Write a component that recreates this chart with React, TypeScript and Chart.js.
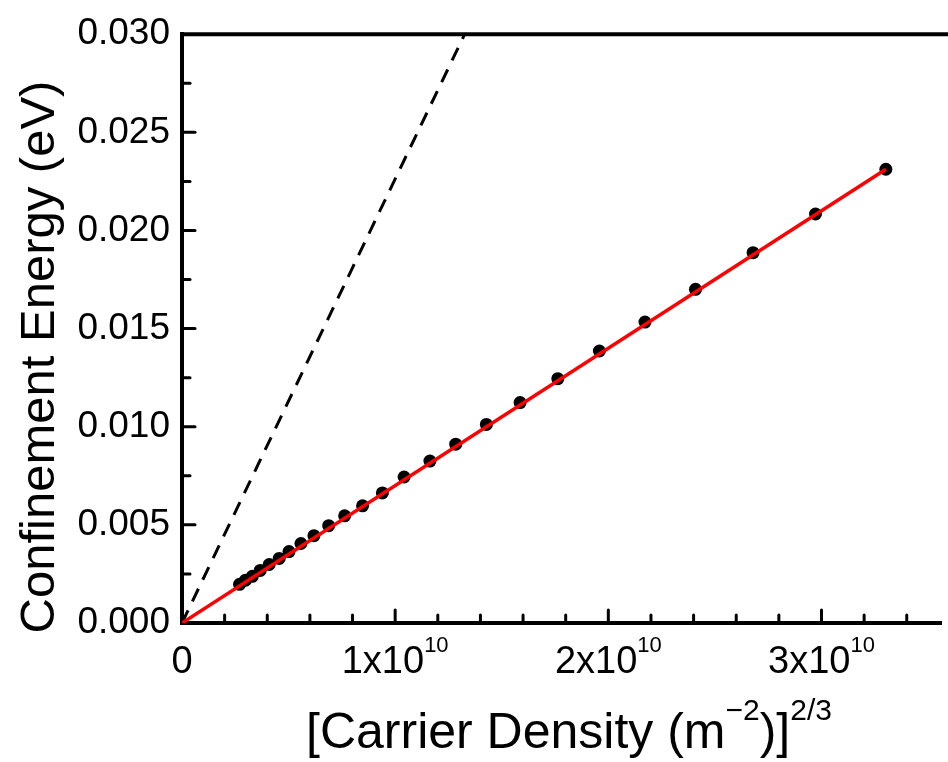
import React, { useEffect, useRef } from 'react';
import { Chart, registerables } from 'chart.js';

Chart.register(...registerables);

// Measured data: [carrier density (m^-2)]^(2/3) vs confinement energy (eV)
const densityX = [
  0.270e10, 0.298e10, 0.330e10, 0.367e10, 0.409e10, 0.456e10, 0.502e10, 0.558e10,
  0.619e10, 0.688e10, 0.763e10, 0.847e10, 0.940e10, 1.042e10, 1.163e10, 1.284e10,
  1.428e10, 1.586e10, 1.763e10, 1.958e10, 2.172e10, 2.409e10, 2.679e10, 2.972e10,
  3.302e10,
];
const energyY = [
  0.00197, 0.00218, 0.00238, 0.00268, 0.00298, 0.00329, 0.00364, 0.00405,
  0.00445, 0.00496, 0.00546, 0.00597, 0.00663, 0.00744, 0.00825, 0.00911,
  0.01012, 0.01123, 0.01245, 0.01386, 0.01533, 0.01700, 0.01887, 0.02084,
  0.02312,
];

// Linear fit (red) endpoints
const fitX = [0, 3.302e10];
const fitY = [0, 0.02312];

// Theoretical line (dashed) endpoints
const modelX = [0, 1.326e10];
const modelY = [0, 0.03];

// Axis ranges and ticks
const X_MIN = 0;
const X_MAX = 3.563e10;
const Y_MIN = 0;
const Y_MAX = 0.03;
const Y_STEP = 0.005;
const Y_MINOR_STEP = 0.0025;
const X_MINOR_STEP = 0.2e10;
const xMajorTicks = [0, 1e10, 2e10, 3e10];
const xTickMantissa = ['0', '1', '2', '3'];
const xTickExponent = ['', '10', '10', '10'];

const yTitle = 'Confinement Energy (eV)';
const xTitleParts: { text: string; sup: boolean }[] = [
  { text: '[Carrier Density (m', sup: false },
  { text: '\u22122', sup: true },
  { text: ')]', sup: false },
  { text: '2/3', sup: true },
];

const FONT = '"Liberation Sans", Arial, sans-serif';

const decorPlugin = {
  id: 'decor',
  afterDraw(chart: any) {
    const ctx: CanvasRenderingContext2D = chart.ctx;
    const area = chart.chartArea;
    const xs = chart.scales.x;
    const ys = chart.scales.y;
    ctx.save();
    ctx.strokeStyle = '#000';
    ctx.fillStyle = '#000';

    // top frame line
    ctx.lineWidth = 4;
    ctx.lineCap = 'butt';
    ctx.beginPath();
    ctx.moveTo(area.left - 2, area.top);
    ctx.lineTo(chart.width, area.top);
    ctx.stroke();

    // inward ticks
    ctx.lineWidth = 3;
    ctx.lineCap = 'round';
    const nY = Math.round((Y_MAX - Y_MIN) / Y_MINOR_STEP);
    for (let i = 1; i < nY; i++) {
      const v = Y_MIN + i * Y_MINOR_STEP;
      const py = ys.getPixelForValue(v);
      const len = i % 2 === 0 ? 12 : 7;
      ctx.beginPath();
      ctx.moveTo(area.left + 1, py);
      ctx.lineTo(area.left + 1 + len, py);
      ctx.stroke();
    }
    const nX = Math.floor((X_MAX - X_MIN) / X_MINOR_STEP);
    for (let i = 1; i <= nX; i++) {
      const v = X_MIN + i * X_MINOR_STEP;
      const px = xs.getPixelForValue(v);
      const len = i % 5 === 0 ? 12 : 7;
      ctx.beginPath();
      ctx.moveTo(px, area.bottom - 1);
      ctx.lineTo(px, area.bottom - 1 - len);
      ctx.stroke();
    }

    // x tick labels with superscript exponent
    const baseFont = `38px ${FONT}`;
    const supFont = `22px ${FONT}`;
    ctx.textBaseline = 'alphabetic';
    ctx.textAlign = 'left';
    xMajorTicks.forEach((v, i) => {
      const px = xs.getPixelForValue(v);
      const base = xTickExponent[i] ? `${xTickMantissa[i]}x10` : xTickMantissa[i];
      ctx.font = baseFont;
      const wb = ctx.measureText(base).width;
      ctx.font = supFont;
      const ws = xTickExponent[i] ? ctx.measureText(xTickExponent[i]).width : 0;
      const start = px - (wb + ws) / 2;
      ctx.font = baseFont;
      ctx.fillText(base, start, area.bottom + 50);
      if (xTickExponent[i]) {
        ctx.font = supFont;
        ctx.fillText(xTickExponent[i], start + wb, area.bottom + 29);
      }
    });

    // x axis title
    const tFont = `50px ${FONT}`;
    const tSupFont = `30px ${FONT}`;
    let total = 0;
    const widths = xTitleParts.map((p) => {
      ctx.font = p.sup ? tSupFont : tFont;
      const w = ctx.measureText(p.text).width;
      total += w;
      return w;
    });
    let cx = 569 - total / 2;
    const baseY = 748;
    xTitleParts.forEach((p, i) => {
      ctx.font = p.sup ? tSupFont : tFont;
      ctx.fillText(p.text, cx, p.sup ? baseY - 28 : baseY);
      cx += widths[i];
    });

    // y axis title
    ctx.font = `49px ${FONT}`;
    ctx.textAlign = 'center';
    ctx.translate(54, 357);
    ctx.rotate(-Math.PI / 2);
    ctx.fillText(yTitle, 0, 0);

    ctx.restore();
  },
};

export default function App() {
  const ref = useRef<HTMLCanvasElement | null>(null);

  useEffect(() => {
    if (!ref.current) return;
    const chart = new Chart(ref.current, {
      type: 'scatter',
      data: {
        datasets: [
          {
            type: 'line',
            label: 'Fit',
            data: fitX.map((x, i) => ({ x, y: fitY[i] })),
            borderColor: '#ff0000',
            borderWidth: 3.5,
            pointRadius: 0,
            fill: false,
          } as any,
          {
            label: 'Data',
            data: densityX.map((x, i) => ({ x, y: energyY[i] })),
            backgroundColor: '#000',
            borderColor: '#000',
            pointRadius: 6.5,
            pointBorderWidth: 0,
          },
          {
            type: 'line',
            label: 'Model',
            data: modelX.map((x, i) => ({ x, y: modelY[i] })),
            borderColor: '#000',
            borderWidth: 3,
            borderDash: [14, 10],
            pointRadius: 0,
            fill: false,
          } as any,
        ],
      },
      options: {
        animation: false,
        responsive: false,
        maintainAspectRatio: false,
        layout: { padding: { top: 30, right: 0, left: 0, bottom: 0 } },
        plugins: {
          legend: { display: false },
          tooltip: { enabled: false },
        },
        scales: {
          x: {
            type: 'linear',
            min: X_MIN,
            max: X_MAX,
            grid: { display: false, drawTicks: false },
            border: { display: true, color: '#000', width: 4 },
            ticks: { display: false },
            afterFit: (s: any) => {
              s.height = 139;
            },
          },
          y: {
            type: 'linear',
            min: Y_MIN,
            max: Y_MAX,
            grid: { display: false, drawTicks: false },
            border: { display: true, color: '#000', width: 4 },
            ticks: {
              stepSize: Y_STEP,
              color: '#000',
              padding: 12,
              font: { family: FONT, size: 37 },
              callback: (v: any) => Number(v).toFixed(3),
            },
            afterFit: (s: any) => {
              s.width = 182;
            },
          },
        },
      },
      plugins: [decorPlugin],
    });
    return () => chart.destroy();
  }, []);

  return (
    <div style={{ position: 'fixed', left: 0, top: 0, width: 948, height: 762, background: '#fff' }}>
      <canvas ref={ref} width={948} height={762} style={{ display: 'block' }} />
    </div>
  );
}
